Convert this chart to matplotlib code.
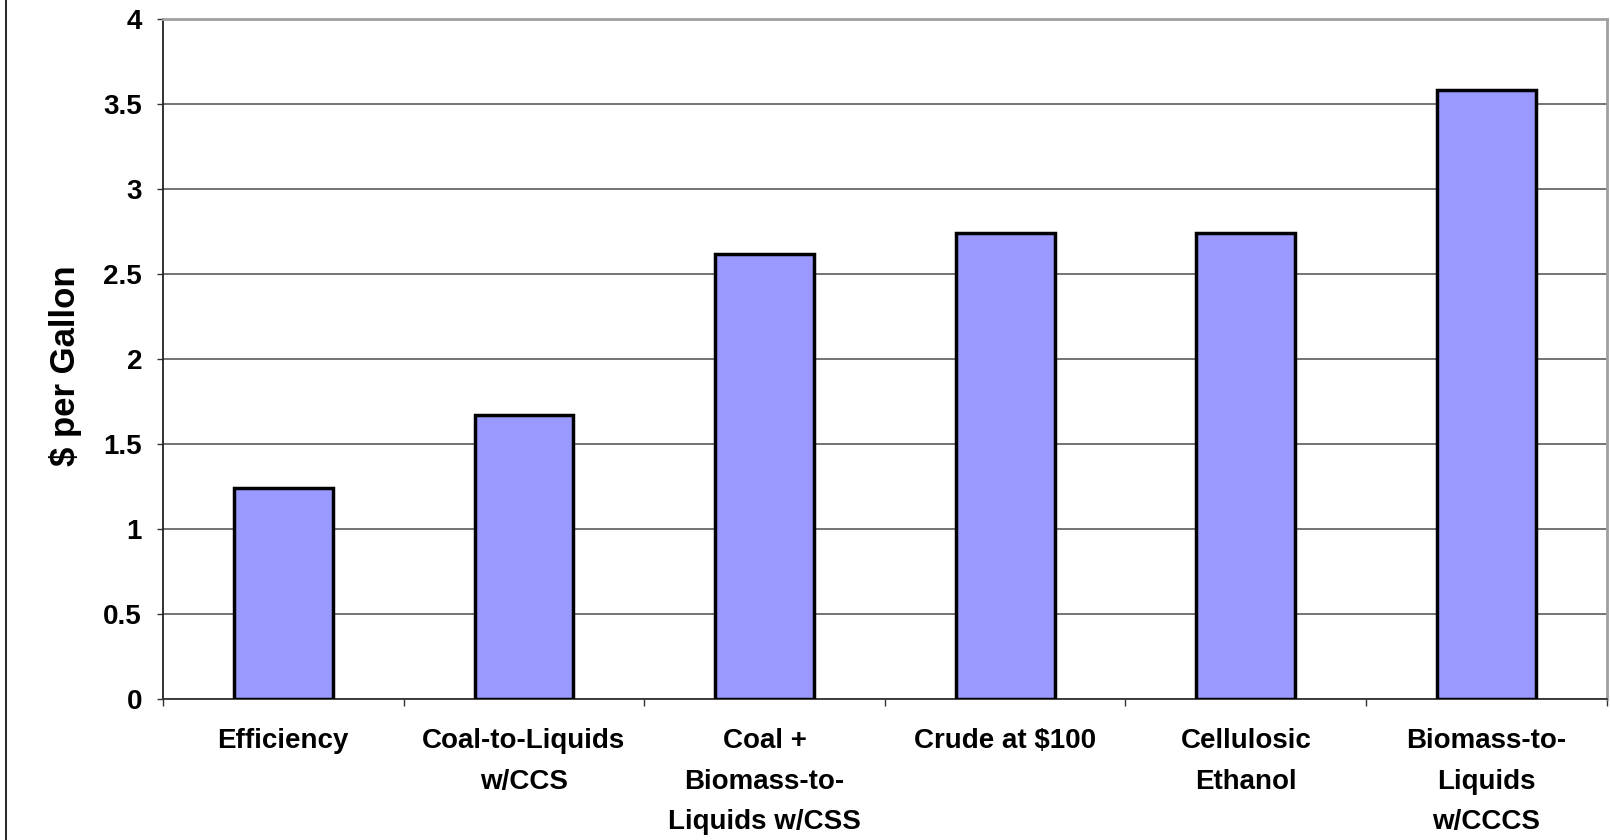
import matplotlib

matplotlib.use("Agg")
import matplotlib.pyplot as plt  # noqa: E402
from matplotlib.lines import Line2D  # noqa: E402
from matplotlib.ticker import FixedLocator, MultipleLocator, FuncFormatter  # noqa: E402

categories = [
    "Efficiency",
    "Coal-to-Liquids\nw/CCS",
    "Coal +\nBiomass-to-\nLiquids w/CSS",
    "Crude at $100",
    "Cellulosic\nEthanol",
    "Biomass-to-\nLiquids\nw/CCCS",
]
cost_per_gallon = [1.24, 1.67, 2.62, 2.74, 2.74, 3.58]

BAR_FILL = "#9999FF"
GRID = "#4d4d4d"
FRAME = "#a0a0a0"

plt.rcParams.update(
    {
        "font.family": ["Liberation Sans", "DejaVu Sans"],
        "font.weight": "bold",
        "axes.labelweight": "bold",
    }
)

fig = plt.figure(figsize=(16.1, 8.4), dpi=100)
ax = fig.add_axes([0.1012, 0.1679, 0.8968, 0.8095])

xs = list(range(len(categories)))
ax.bar(xs, cost_per_gallon, width=0.41, color=BAR_FILL, edgecolor="black", linewidth=2.5, zorder=3)

ax.set_xlim(-0.5, len(categories) - 0.5)
ax.set_ylim(0, 4)
ax.yaxis.set_major_locator(MultipleLocator(0.5))
ax.yaxis.set_major_formatter(FuncFormatter(lambda v, _p: f"{v:g}"))
ax.grid(True, axis="y", color=GRID, linewidth=1.1, zorder=1)
ax.set_axisbelow(True)

# category labels sit between the boundary ticks
ax.set_xticks(xs)
ax.set_xticklabels(categories, fontsize=20, linespacing=1.73, va="top")
ax.xaxis.set_minor_locator(FixedLocator([x - 0.5 for x in xs] + [len(xs) - 0.5]))
ax.tick_params(axis="x", which="major", length=0, pad=21)
ax.tick_params(axis="x", which="minor", length=5, width=1, color="#333333")
ax.tick_params(axis="y", length=4.5, width=1, pad=10.5, labelsize=20, color="#333333")

ax.spines["left"].set_color("#222222")
ax.spines["left"].set_linewidth(1.3)
ax.spines["bottom"].set_color("#333333")
ax.spines["bottom"].set_linewidth(1.3)
for side in ("top", "right"):
    ax.spines[side].set_color(FRAME)
    ax.spines[side].set_linewidth(2)

ax.set_ylabel("$ per Gallon", fontsize=25)
ax.yaxis.set_label_coords(-0.056, 0.49)

# outer chart border along the left edge
fig.add_artist(Line2D([0.0035, 0.0035], [0, 1], color="black", linewidth=1.2, transform=fig.transFigure))

fig.savefig("out.png", dpi=100, facecolor="white")
